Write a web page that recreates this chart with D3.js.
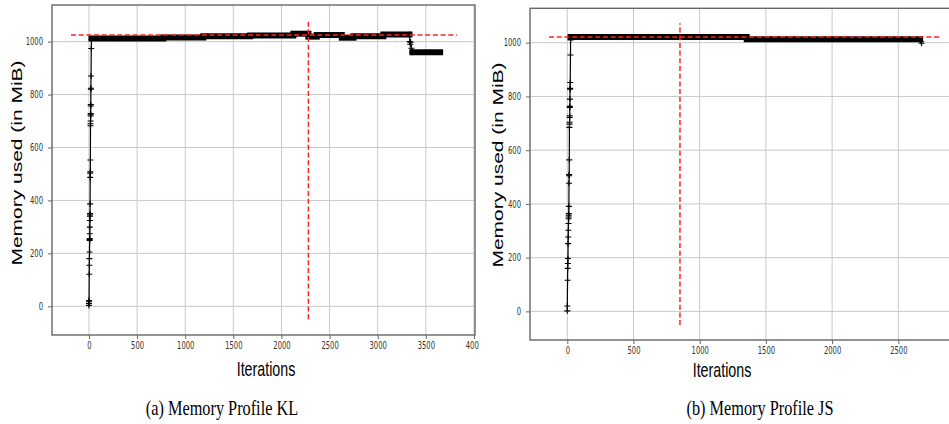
<!DOCTYPE html>
<html lang="en">

<head>
  <meta charset="UTF-8" />
  <script src="https://d3js.org/d3.v7.min.js"></script>
  <style>
    body {
      margin: 0;
      background-color: #fff;
      overflow: hidden;
    }

    svg {
      display: block;
    }

    .tick text {
      font-family: "DejaVu Sans", sans-serif;
      font-size: 10px;
      fill: #333;
    }
  </style>
</head>

<body>
  <svg width="949" height="424"></svg>

  <script>
    // ---- data ----
    // KL run: ramp-up points [iteration, MiB]
    const klRamp = [[0, 3], [0, 10], [1, 17], [1, 22], [3, 121], [4, 155], [5, 180], [6, 205], [7, 249], [7, 252],
      [8, 256], [8, 274], [9, 299], [10, 324], [10, 340], [11, 345], [11, 350], [12, 387], [13, 487], [13, 503],
      [14, 508], [15, 553], [16, 682], [16, 690], [17, 700], [17, 719], [18, 724], [18, 728], [19, 757], [19, 762],
      [20, 820], [20, 824], [22, 870], [24, 974], [26, 1008]];
    // KL plateau levels [from, to, MiB]
    const klSteps = [[26, 773, 1012], [773, 1188, 1016], [1188, 1674, 1020], [1674, 2124, 1023], [2124, 2280, 1030],
      [2280, 2367, 1019], [2367, 2627, 1025], [2627, 2748, 1015], [2748, 3059, 1020], [3059, 3330, 1027],
      [3360, 3649, 960]];
    const klDrop = [[3330, 1027], [3334, 1000], [3338, 990], [3342, 998], [3350, 975], [3360, 960]];
    const klPeak = 1025;
    const klSplit = 2280;

    // JS run
    const jsRamp = [[0, 2], [0, 20], [2, 116], [3, 160], [4, 178], [5, 197], [6, 252], [7, 277], [8, 302], [9, 327],
      [10, 345], [10, 351], [11, 358], [11, 364], [12, 391], [13, 477], [14, 505], [14, 509], [15, 564], [16, 685],
      [17, 697], [17, 704], [18, 722], [18, 728], [19, 759], [19, 763], [20, 790], [21, 827], [21, 830], [22, 852],
      [24, 954], [25, 1010]];
    const jsSteps = [[25, 1355, 1021], [1355, 2664, 1013]];
    const jsDrop = [[2664, 1013], [2670, 1005], [2676, 998]];
    const jsPeak = 1021;
    const jsSplit = 851;

    const yTicks = [0, 200, 400, 600, 800, 1000];
    const klXTicks = [0, 500, 1000, 1500, 2000, 2500, 3000, 3500, 4000];
    const jsXTicks = [0, 500, 1000, 1500, 2000, 2500];

    const svg = d3.select("svg");
    const sx = 0.68; // picture is squeezed sideways

    function panel(o) {
      const clipId = "clip-" + o.id;
      svg.append("clipPath").attr("id", clipId)
        .append("rect").attr("x", o.clip[0]).attr("y", 0).attr("width", o.clip[1] - o.clip[0]).attr("height", 424);
      const g = svg.append("g").attr("clip-path", `url(#${clipId})`);

      const x = d3.scaleLinear().domain(o.xDomain).range([o.left, o.right]);
      const y = d3.scaleLinear().domain(o.yDomain).range([o.bottom, o.top]);

      // grid
      g.append("g").selectAll("line").data(o.xTicks).join("line")
        .attr("x1", d => x(d)).attr("x2", d => x(d))
        .attr("y1", o.top).attr("y2", o.bottom)
        .attr("stroke", "#c8c8c8").attr("stroke-width", 1);
      g.append("g").selectAll("line").data(yTicks).join("line")
        .attr("x1", o.left).attr("x2", o.right)
        .attr("y1", d => y(d)).attr("y2", d => y(d))
        .attr("stroke", "#c8c8c8").attr("stroke-width", 1);

      // axes
      const xa = g.append("g").attr("transform", `translate(0,${o.bottom})`)
        .call(d3.axisBottom(x).tickValues(o.xTicks).tickFormat(d3.format("d")).tickSize(4).tickPadding(3));
      const ya = g.append("g").attr("transform", `translate(${o.left},0)`)
        .call(d3.axisLeft(y).tickValues(yTicks).tickFormat(d3.format("d")).tickSize(4).tickPadding(5));
      [xa, ya].forEach(a => {
        a.select(".domain").remove();
        a.selectAll(".tick line").attr("stroke", "#666");
      });
      xa.selectAll("text").attr("transform", `scale(${sx},1)`);
      ya.selectAll("text").attr("transform", `scale(${sx},1)`).attr("x", -9 / sx);

      // frame
      g.append("rect").attr("x", o.left).attr("y", o.top)
        .attr("width", o.right - o.left).attr("height", o.bottom - o.top)
        .attr("fill", "none").attr("stroke", "#666").attr("stroke-width", 1.4);

      // series
      const all = o.ramp.concat(o.drop).concat(o.steps.flatMap(s => [[s[0], s[2]], [s[1], s[2]]]))
        .sort((a, b) => a[0] - b[0]);
      g.append("path").datum(all)
        .attr("d", d3.line().x(d => x(d[0])).y(d => y(d[1])))
        .attr("fill", "none").attr("stroke", "#000").attr("stroke-width", 1.2);
      g.append("g").selectAll("line").data(o.steps).join("line")
        .attr("x1", d => x(d[0])).attr("x2", d => x(d[1]))
        .attr("y1", d => y(d[2])).attr("y2", d => y(d[2]))
        .attr("stroke", "#000").attr("stroke-width", 6).attr("stroke-linecap", "square");
      g.append("g").selectAll("path").data(o.ramp.concat(o.drop)).join("path")
        .attr("transform", d => `translate(${x(d[0])},${y(d[1])})`)
        .attr("d", "M-3,0H3M0,-3V3")
        .attr("stroke", "#000").attr("stroke-width", 1.1);

      // reference lines
      g.append("line")
        .attr("x1", x(o.hSpan[0])).attr("x2", x(o.hSpan[1]))
        .attr("y1", y(o.peak)).attr("y2", y(o.peak))
        .attr("stroke", "#f22").attr("stroke-width", 1.5).attr("stroke-dasharray", "5,2.7");
      g.append("line")
        .attr("x1", x(o.split)).attr("x2", x(o.split))
        .attr("y1", y(o.vSpan[0])).attr("y2", y(o.vSpan[1]))
        .attr("stroke", "#f22").attr("stroke-width", 1.5).attr("stroke-dasharray", "5,2.7");

      // labels
      g.append("text")
        .attr("transform", `translate(${o.yLabel[0]},${o.yLabel[1]}) scale(${sx},1) rotate(-90)`)
        .attr("text-anchor", "middle")
        .style("font-family", "'Liberation Sans', Arial, sans-serif").style("font-size", "21px")
        .text("Memory used (in MiB)");
      g.append("text")
        .attr("transform", `translate(${o.xLabel[0]},${o.xLabel[1]}) scale(${sx},1)`)
        .attr("text-anchor", "middle")
        .style("font-family", "'Liberation Sans', Arial, sans-serif").style("font-size", "21px")
        .text("Iterations");
      svg.append("text")
        .attr("transform", `translate(${o.caption[0]},${o.caption[1]}) scale(0.74,1)`)
        .attr("text-anchor", "middle")
        .style("font-family", "'Liberation Serif', 'Times New Roman', serif").style("font-size", "22px")
        .text(o.title);
    }

    panel({
      id: "kl", clip: [0, 479],
      left: 52, right: 475, top: 5, bottom: 335,
      xDomain: [-384, 4011], yDomain: [-108.5, 1138.5],
      xTicks: klXTicks,
      ramp: klRamp, steps: klSteps, drop: klDrop,
      peak: klPeak, hSpan: [-187, 3822], split: klSplit, vSpan: [-49, 1075],
      yLabel: [22, 163], xLabel: [266, 376], caption: [222, 415],
      title: "(a) Memory Profile KL"
    });

    panel({
      id: "js", clip: [480, 949],
      left: 530, right: 960, top: 8.3, bottom: 340,
      xDomain: [-281.7, 2966], yDomain: [-106.5, 1128],
      xTicks: jsXTicks,
      ramp: jsRamp, steps: jsSteps, drop: jsDrop,
      peak: jsPeak, hSpan: [-138, 2818], split: jsSplit, vSpan: [-51, 1072],
      yLabel: [503, 165], xLabel: [722, 377], caption: [760, 415],
      title: "(b) Memory Profile JS"
    });
  </script>
</body>

</html>
